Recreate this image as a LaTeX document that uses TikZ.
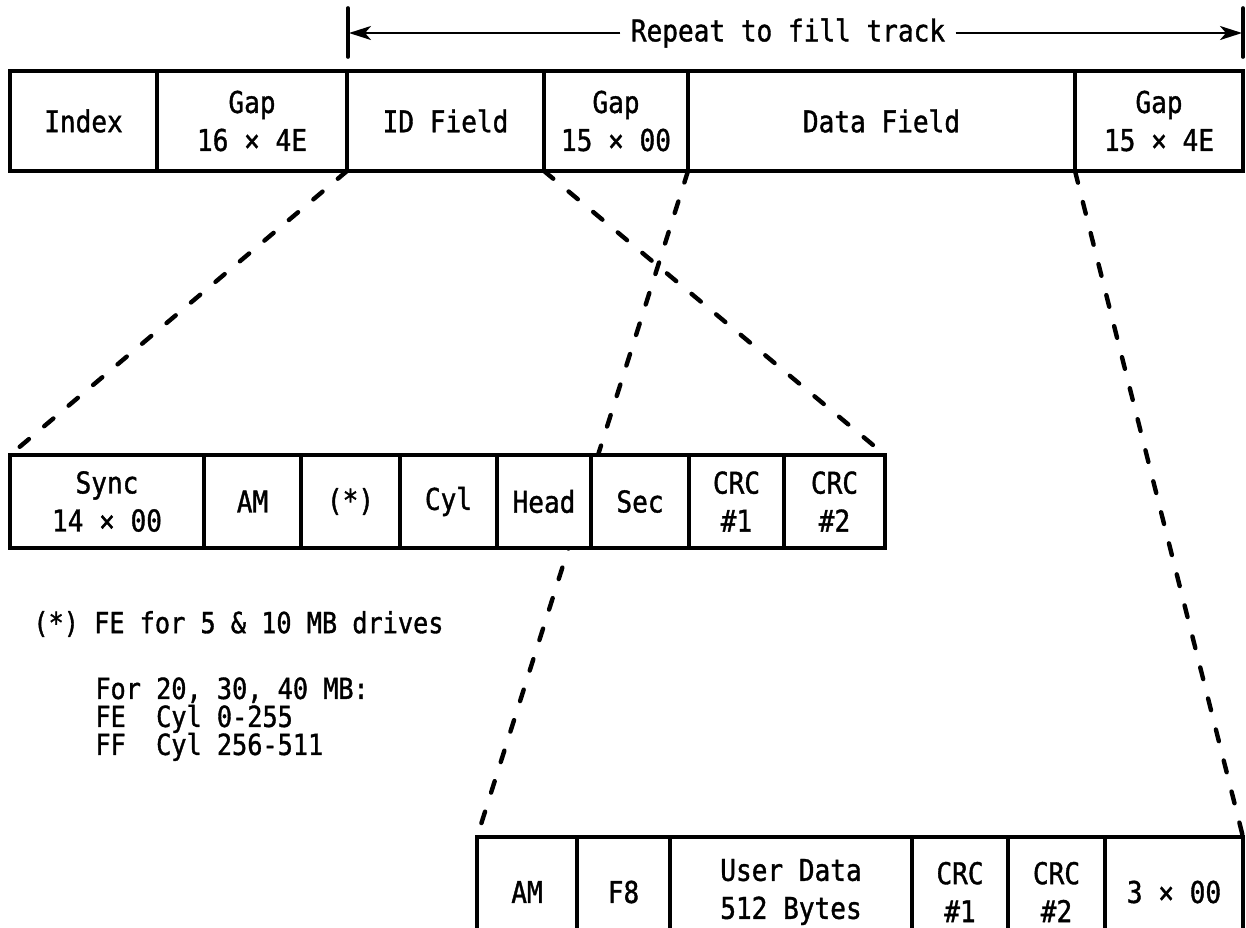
\documentclass[tikz,border=0pt]{standalone}
\usepackage{fontspec}
\newfontfamily\gothic[FakeStretch=0.87,FakeBold=1.2]{DejaVu Sans Mono}
\usetikzlibrary{arrows.meta,backgrounds}
\newcommand\tightlines{\lineskiplimit=-20pt\relax\lineskip=0pt\relax}

\begin{document}
\begin{tikzpicture}[x=0.5pt,y=-0.5pt,
  field/.style={draw, line width=1.8pt, fill=white, anchor=north west,
    inner sep=0pt, outer sep=0pt, align=center,
    font=\gothic\fontsize{15}{19}\selectfont},
  zoomline/.style={line width=2.2pt, dash pattern=on 6pt off 10pt, line cap=round},
  span/.style={line width=1.3pt, -{Stealth[length=11pt,width=7pt,inset=3pt]}},
  tick/.style={line width=1.8pt, line cap=round},
  note/.style={anchor=west, inner sep=0pt, align=left,
    font={\gothic\fontsize{14.5}{14}\selectfont\tightlines}}]

\clip (0,0) rectangle (1246,927);

% Track layout
\node[field, minimum width=73.5pt, minimum height=50pt] (index) at (10,71)   {Index};
\node[field, minimum width=95pt,   minimum height=50pt] (gapa)  at (157,71)  {Gap\\16 × 4E};
\node[field, minimum width=98.5pt, minimum height=50pt] (id)    at (347,71)  {ID Field};
\node[field, minimum width=72pt,   minimum height=50pt] (gapb)  at (544,71)  {Gap\\15 × 00};
\node[field, minimum width=193.5pt,minimum height=50pt] (data)  at (688,71)  {Data Field};
\node[field, minimum width=84pt,   minimum height=50pt] (gapc)  at (1075,71) {Gap\\15 × 4E};

% Repeat span above the track
\node[inner sep=5pt, font=\gothic\fontsize{15}{19}\selectfont] (rpt) at (788,33) {Repeat to fill track};
\coordinate (lt) at (349,33);
\coordinate (rt) at (1242,33);
\draw[tick] (348,8) -- (348,57);
\draw[tick] (1243,8) -- (1243,57);
\draw[span] (rpt.west) -- (lt);
\draw[span] (rpt.east) -- (rt);

% ID field detail
\node[field, minimum width=97pt,   minimum height=46.5pt] (sync) at (10,455)  {Sync\\14 × 00};
\node[field, minimum width=48.5pt, minimum height=46.5pt] (am)   at (204,455) {AM};
\node[field, minimum width=49.5pt, minimum height=46.5pt] (ast)  at (301,455) {(*)};
\node[field, minimum width=48.5pt, minimum height=46.5pt] (cyl)  at (400,455) {Cyl};
\node[field, minimum width=47pt,   minimum height=46.5pt] (head) at (497,455) {Head};
\node[field, minimum width=49pt,   minimum height=46.5pt] (sec)  at (591,455) {Sec};
\node[field, minimum width=47.5pt, minimum height=46.5pt] (crca) at (689,455) {CRC\\\#1};
\node[field, minimum width=50.5pt, minimum height=46.5pt] (crcb) at (784,455) {CRC\\\#2};

% Data field detail
\node[field, minimum width=50pt,   minimum height=55pt] (dam)  at (477,837)  {AM};
\node[field, minimum width=46.5pt, minimum height=55pt] (fe)   at (577,837)  {F8};
\node[field, minimum width=121pt,  minimum height=55pt] (user) at (670,837)  {User Data\\512 Bytes};
\node[field, minimum width=48pt,   minimum height=55pt] (dcra) at (912,837)  {CRC\\\#1};
\node[field, minimum width=48.5pt, minimum height=55pt] (dcrb) at (1008,837) {CRC\\\#2};
\node[field, minimum width=69pt,   minimum height=55pt] (pad)  at (1105,837) {3 × 00};

% Footnote
\node[note] (fn)  at (33,624) {(*) FE for 5 \& 10 MB drives};
\node[note, anchor=north west] (fnb) at (95,677) {For 20, 30, 40 MB:\\FE\ \ Cyl 0-255\\FF\ \ Cyl 256-511};

% Expansion lines
\begin{scope}[on background layer]
  \draw[zoomline] (id.south west) -- (sync.north west);
  \draw[zoomline] (id.south east) -- (crcb.north east);
  \draw[zoomline] (data.south west) -- (dam.north west);
  \draw[zoomline] (data.south east) -- (pad.north east);
\end{scope}
\end{tikzpicture}
\end{document}
